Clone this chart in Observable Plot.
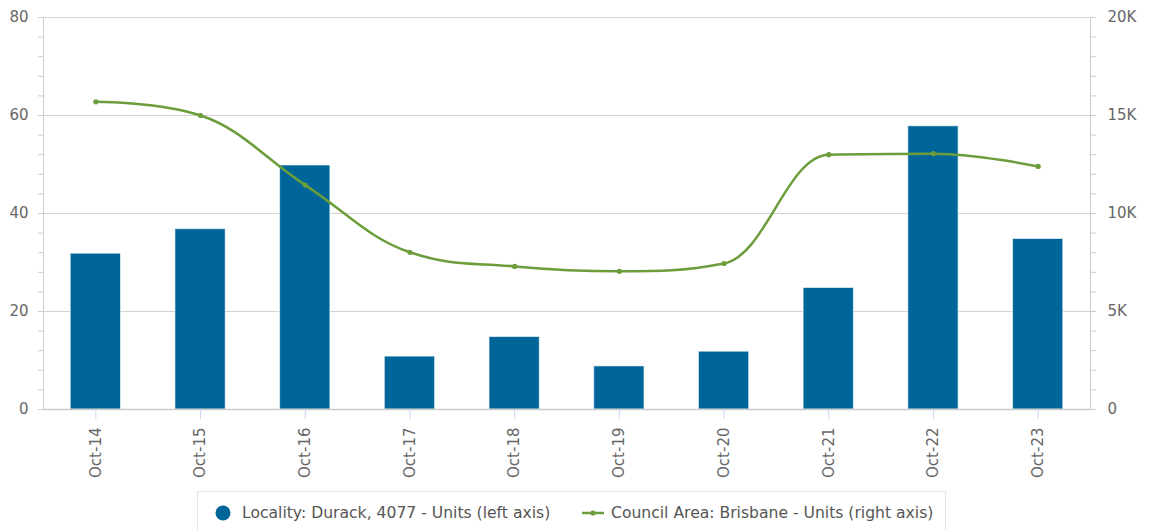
<!DOCTYPE html>
<html>
<head>
<meta charset="utf-8">
<script src="https://cdn.jsdelivr.net/npm/d3@7"></script>
<script src="https://cdn.jsdelivr.net/npm/@observablehq/plot@0.6"></script>
<style>
  html, body { margin: 0; padding: 0; background: #fff; }
  #wrap { position: relative; width: 1149px; height: 530px; overflow: hidden; font-family: "DejaVu Sans", sans-serif; }
  #legend { position: absolute; left: 197px; top: 491px; width: 749px; height: 50px; border: 1px solid #e3e3e3; box-sizing: border-box; }
  .item { position: absolute; top: 11px; font-size: 15.6px; color: #555; white-space: nowrap; line-height: 20px; }
  .sw { position: absolute; }
</style>
</head>
<body>
<div id="wrap"></div>
<script>
// ---- data ----
const categories = ["Oct-14","Oct-15","Oct-16","Oct-17","Oct-18","Oct-19","Oct-20","Oct-21","Oct-22","Oct-23"];
const localityUnits = [32, 37, 50, 11, 15, 9, 12, 25, 58, 35];
const councilUnits = [15700, 15000, 11450, 8020, 7300, 7050, 7450, 13000, 13050, 12400];
const leftTicks = [0, 20, 40, 60, 80];
const rightTickLabels = ["0", "5K", "10K", "15K", "20K"];
const rightMax = 20000;
const leftMax = 80;
const seriesNames = ["Locality: Durack, 4077 - Units (left axis)", "Council Area: Brisbane - Units (right axis)"];
const barColor = "#006699";
const lineColor = "#6b9e3b";

const ratio = rightMax / leftMax;
const rows = categories.map((c, i) => ({cat: c, loc: localityUnits[i], council: councilUnits[i]}));
const minorTicks = d3.range(0, leftMax + 0.001, 4);

// Highcharts-like spline curve
function HCSpline(context) { this._context = context; }
HCSpline.prototype = {
  areaStart() { this._line = 0; },
  areaEnd() { this._line = NaN; },
  lineStart() { this._pts = []; },
  point(x, y) { this._pts.push([+x, +y]); },
  lineEnd() {
    const p = this._pts, n = p.length, ctx = this._context;
    if (!n) return;
    const s = 1.5, den = s + 1;
    const L = [], R = [];
    for (let i = 0; i < n; i++) {
      if (i > 0 && i < n - 1) {
        const [x, y] = p[i], [lx, ly] = p[i - 1], [nx, ny] = p[i + 1];
        let lcx = (s * x + lx) / den, lcy = (s * y + ly) / den;
        let rcx = (s * x + nx) / den, rcy = (s * y + ny) / den;
        let corr = 0;
        if (rcx !== lcx) corr = ((rcy - lcy) * (rcx - x)) / (rcx - lcx) + y - rcy;
        lcy += corr; rcy += corr;
        if (lcy > ly && lcy > y) { lcy = Math.max(ly, y); rcy = 2 * y - lcy; }
        else if (lcy < ly && lcy < y) { lcy = Math.min(ly, y); rcy = 2 * y - lcy; }
        if (rcy > ny && rcy > y) { rcy = Math.max(ny, y); lcy = 2 * y - rcy; }
        else if (rcy < ny && rcy < y) { rcy = Math.min(ny, y); lcy = 2 * y - rcy; }
        L[i] = [lcx, lcy]; R[i] = [rcx, rcy];
      } else { L[i] = p[i]; R[i] = p[i]; }
    }
    ctx.moveTo(p[0][0], p[0][1]);
    for (let i = 1; i < n; i++) {
      ctx.bezierCurveTo(R[i - 1][0], R[i - 1][1], L[i][0], L[i][1], p[i][0], p[i][1]);
    }
  }
};
const hcSpline = (context) => new HCSpline(context);

const axisColor = "#cccccc";
const textColor = "#666666";

const chart = Plot.plot({
  width: 1149,
  height: 488,
  marginLeft: 43,
  marginRight: 59,
  marginTop: 17,
  marginBottom: 79,
  style: {fontFamily: "DejaVu Sans", fontSize: "15px", background: "#fff"},
  x: {domain: categories, paddingInner: 0.52, paddingOuter: 0.26, align: 0.5, round: false},
  y: {domain: [0, leftMax]},
  marks: [
    Plot.ruleY(leftTicks.filter(d => d > 0), {stroke: "#d3d3d3", strokeWidth: 1}),
    Plot.barY(rows, {x: "cat", y: "loc", fill: barColor, stroke: "#ffffff", strokeWidth: 1, strokeOpacity: 0.6, insetTop: 1}),
    Plot.ruleY([0], {stroke: axisColor, strokeWidth: 1.5}),
    Plot.frame({anchor: "left", stroke: axisColor}),
    Plot.frame({anchor: "right", stroke: axisColor}),
    Plot.axisY(minorTicks, {anchor: "left", tickSize: 5, tickFormat: () => "", stroke: axisColor, label: null}),
    Plot.axisY(leftTicks, {anchor: "left", tickSize: 0, tickPadding: 15, fill: textColor, fontSize: 15, label: null}),
    Plot.axisY(minorTicks, {anchor: "right", tickSize: 5, tickFormat: () => "", stroke: axisColor, label: null}),
    Plot.axisY(leftTicks, {anchor: "right", tickSize: 0, tickPadding: 17, fill: textColor, fontSize: 15, label: null,
      tickFormat: (d) => rightTickLabels[leftTicks.indexOf(d)]}),
    Plot.axisX({tickSize: 10, tickRotate: -90, tickPadding: 8, stroke: "#ccd6eb", fill: textColor, fontSize: 15, label: null}),
    Plot.line(rows, {x: "cat", y: d => d.council / ratio, curve: hcSpline, stroke: lineColor, strokeWidth: 2.5}),
    Plot.dot(rows, {x: "cat", y: d => d.council / ratio, r: 2.6, fill: lineColor, stroke: "none"})
  ]
});

const wrap = document.getElementById("wrap");
wrap.appendChild(chart);

// legend
const legend = document.createElement("div");
legend.id = "legend";
legend.innerHTML = `
  <svg class="sw" style="left:17px;top:13px" width="16" height="16"><circle cx="8" cy="8" r="7.5" fill="${barColor}"/></svg>
  <div class="item" style="left:44px">${seriesNames[0]}</div>
  <svg class="sw" style="left:383px;top:14px" width="24" height="14"><line x1="1" y1="7" x2="23" y2="7" stroke="${lineColor}" stroke-width="2.5"/><circle cx="12" cy="7" r="2.6" fill="${lineColor}"/></svg>
  <div class="item" style="left:413px">${seriesNames[1]}</div>`;
wrap.appendChild(legend);
</script>
</body>
</html>
